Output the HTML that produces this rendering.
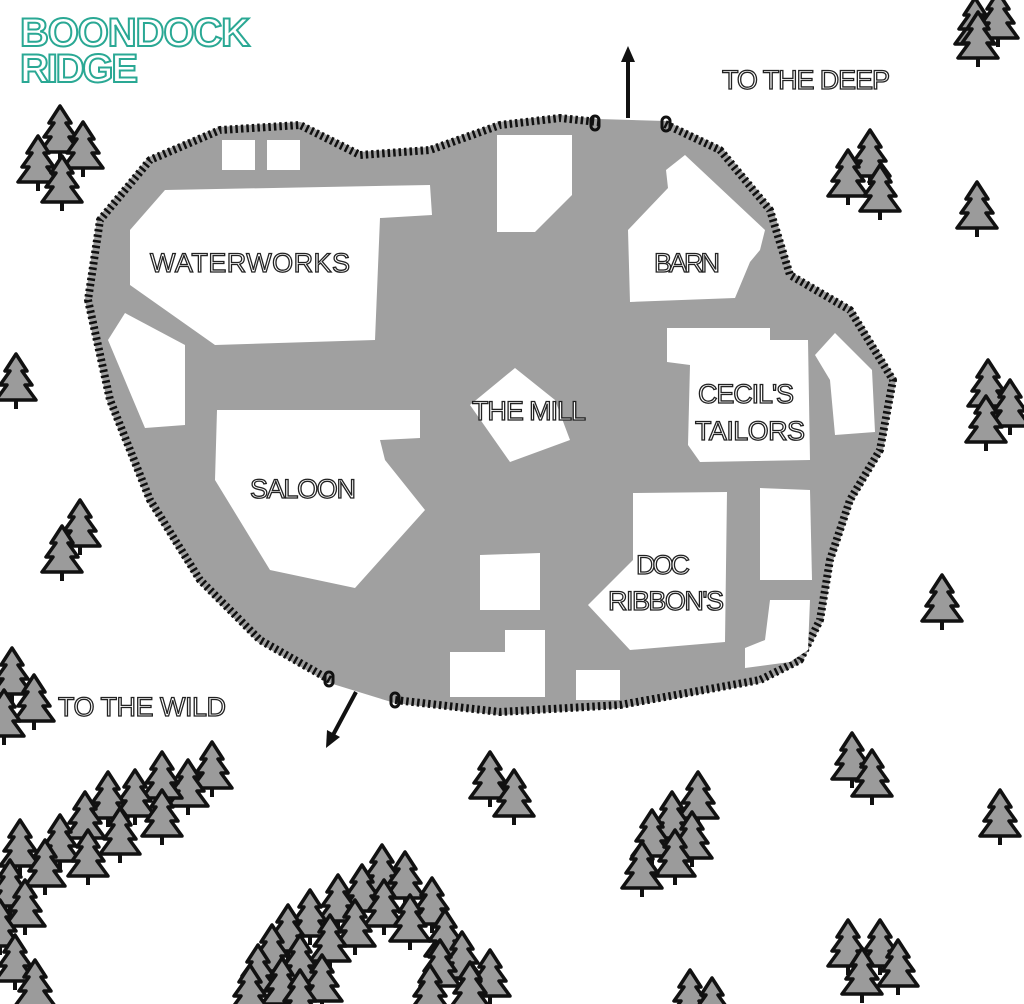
<!DOCTYPE html>
<html><head><meta charset="utf-8"><style>
html,body{margin:0;padding:0;background:#fff;}
svg{display:block}
.lbl{font-family:"Liberation Sans",sans-serif;font-size:27px;fill:#fff;stroke:#222;stroke-width:1.3;}
.ttl{font-family:"Liberation Sans",sans-serif;font-size:40px;fill:#fff;stroke:#2aa894;stroke-width:2;font-weight:bold;}
</style></head><body>
<svg width="1024" height="1004" viewBox="0 0 1024 1004" xmlns="http://www.w3.org/2000/svg">
<defs>
<symbol id="t" overflow="visible">
<path d="M0 0 L-11 17 L-6 17 L-16 31 L-9 31 L-20 46 L20 46 L9 31 L16 31 L6 17 L11 17 Z" fill="#9b9b9b" stroke="#111" stroke-width="3.5" stroke-linejoin="round"/>
<line x1="0" y1="46" x2="0" y2="55" stroke="#111" stroke-width="4"/>
</symbol>
</defs>
<polygon fill="#a0a0a0" stroke="#a0a0a0" stroke-width="6" stroke-linejoin="round" points="598,122 665,124 720,150 770,210 790,275 850,310 893,380 880,450 850,500 830,560 820,620 800,660 760,680 620,705 500,712 395,700 330,680 260,640 200,580 150,500 110,400 88,300 100,220 150,160 220,130 300,125 360,155 430,150 500,125 560,118"/>
<g fill="none" stroke="#111" stroke-width="8" stroke-dasharray="2.5 3" stroke-linejoin="round">
<polyline points="665,124 720,150 770,210 790,275 850,310 893,380 880,450 850,500 830,560 820,620 800,660 760,680 620,705 500,712 395,700"/>
<polyline points="330,680 260,640 200,580 150,500 110,400 88,300 100,220 150,160 220,130 300,125 360,155 430,150 500,125 560,118 598,122"/>
</g>
<g fill="none" stroke="#111" stroke-width="3">
<rect x="591" y="116" width="8" height="14" rx="4"/>
<rect x="662" y="117" width="8" height="14" rx="4"/>
<rect x="325" y="672" width="8" height="14" rx="4"/>
<rect x="391" y="693" width="8" height="14" rx="4"/>
</g>
<line x1="628" y1="118" x2="628" y2="60" stroke="#111" stroke-width="4"/>
<polygon points="628,46 621,62 635,62" fill="#111"/>
<line x1="356" y1="692" x2="333" y2="735" stroke="#111" stroke-width="4"/>
<polygon points="326,748 327,730 340,737" fill="#111"/>
<g fill="#fff">
<polygon points="222,140 255,140 255,170 222,170"/>
<polygon points="267,140 300,140 300,170 267,170"/>
<polygon points="130,230 165,190 430,185 432,215 380,218 375,340 215,345 130,285"/>
<polygon points="108,340 125,313 185,345 185,425 145,428"/>
<polygon points="217,410 420,410 420,438 380,440 385,460 425,510 355,588 270,570 215,480"/>
<polygon points="497,135 572,135 572,195 535,232 497,232"/>
<polygon points="628,230 668,188 666,170 685,155 765,230 760,250 750,262 735,298 630,302"/>
<polygon points="470,405 515,368 555,400 570,440 510,462"/>
<polygon points="667,328 770,328 770,340 808,340 810,460 700,462 688,445 690,365 667,362"/>
<polygon points="815,355 835,333 872,370 875,432 835,435 830,380"/>
<polygon points="633,493 727,492 725,642 630,650 588,605 633,560"/>
<polygon points="760,488 810,490 812,580 760,580"/>
<polygon points="770,600 810,600 808,650 790,662 745,668 745,648 765,640"/>
<polygon points="480,555 540,553 540,610 480,610"/>
<polygon points="450,652 505,652 505,630 545,630 545,697 450,697"/>
<polygon points="576,670 620,670 620,700 576,700"/>
</g>
<text class="ttl" x="20" y="46" textLength="230">BOONDOCK</text>
<text class="ttl" x="20" y="82" textLength="118">RIDGE</text>
<text class="lbl" x="150" y="272" textLength="200">WATERWORKS</text>
<text class="lbl" x="654" y="272" textLength="66">BARN</text>
<text class="lbl" x="472" y="420" textLength="114">THE MILL</text>
<text class="lbl" x="698" y="403" textLength="96">CECIL'S</text>
<text class="lbl" x="695" y="440" textLength="110">TAILORS</text>
<text class="lbl" x="250" y="498" textLength="106">SALOON</text>
<text class="lbl" x="636" y="574" textLength="54">DOC</text>
<text class="lbl" x="608" y="610" textLength="116">RIBBON'S</text>
<text class="lbl" x="722" y="89" textLength="168">TO THE DEEP</text>
<text class="lbl" x="58" y="716" textLength="168">TO THE WILD</text>
<g>
<use href="#t" x="975" y="-2"/><use href="#t" x="998" y="-8"/><use href="#t" x="978" y="12"/>
<use href="#t" x="870" y="130"/><use href="#t" x="848" y="150"/><use href="#t" x="880" y="165"/>
<use href="#t" x="977" y="182"/>
<use href="#t" x="60" y="106"/><use href="#t" x="83" y="122"/><use href="#t" x="38" y="136"/><use href="#t" x="62" y="156"/>
<use href="#t" x="16" y="354"/>
<use href="#t" x="80" y="500"/><use href="#t" x="62" y="526"/>
<use href="#t" x="988" y="360"/><use href="#t" x="1010" y="380"/><use href="#t" x="986" y="396"/>
<use href="#t" x="942" y="575"/>
<use href="#t" x="12" y="648"/><use href="#t" x="34" y="675"/><use href="#t" x="4" y="690"/>
<use href="#t" x="490" y="752"/><use href="#t" x="514" y="770"/>
<use href="#t" x="852" y="733"/><use href="#t" x="872" y="750"/>
<use href="#t" x="1000" y="790"/>
<use href="#t" x="698" y="772"/><use href="#t" x="672" y="792"/><use href="#t" x="652" y="810"/><use href="#t" x="692" y="812"/><use href="#t" x="675" y="830"/><use href="#t" x="642" y="842"/>
<use href="#t" x="212" y="742"/><use href="#t" x="188" y="760"/><use href="#t" x="162" y="752"/><use href="#t" x="135" y="770"/><use href="#t" x="108" y="772"/><use href="#t" x="162" y="790"/><use href="#t" x="120" y="808"/><use href="#t" x="85" y="792"/><use href="#t" x="60" y="815"/><use href="#t" x="88" y="830"/><use href="#t" x="20" y="820"/><use href="#t" x="45" y="840"/><use href="#t" x="10" y="860"/><use href="#t" x="25" y="880"/><use href="#t" x="0" y="900"/><use href="#t" x="15" y="935"/><use href="#t" x="35" y="960"/>
<use href="#t" x="382" y="845"/><use href="#t" x="405" y="852"/><use href="#t" x="362" y="865"/><use href="#t" x="338" y="875"/><use href="#t" x="432" y="878"/><use href="#t" x="384" y="880"/><use href="#t" x="310" y="890"/><use href="#t" x="355" y="900"/><use href="#t" x="410" y="895"/><use href="#t" x="445" y="910"/><use href="#t" x="288" y="905"/><use href="#t" x="330" y="915"/><use href="#t" x="272" y="925"/><use href="#t" x="462" y="932"/><use href="#t" x="300" y="935"/><use href="#t" x="440" y="940"/><use href="#t" x="258" y="945"/><use href="#t" x="490" y="950"/><use href="#t" x="282" y="958"/><use href="#t" x="322" y="955"/><use href="#t" x="470" y="962"/><use href="#t" x="250" y="965"/><use href="#t" x="430" y="965"/><use href="#t" x="300" y="970"/>
<use href="#t" x="848" y="920"/><use href="#t" x="880" y="920"/><use href="#t" x="898" y="940"/><use href="#t" x="862" y="948"/>
<use href="#t" x="690" y="970"/><use href="#t" x="712" y="978"/>
</g>
</svg>
</body></html>
